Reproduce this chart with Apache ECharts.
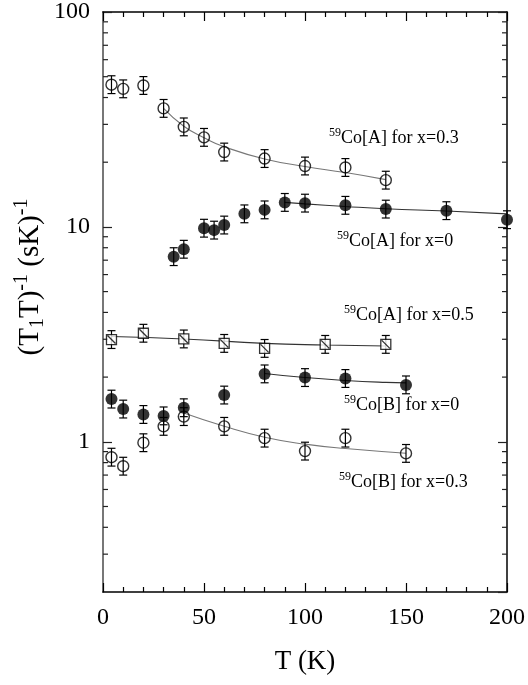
<!DOCTYPE html>
<html>
<head>
<meta charset="utf-8">
<script src="https://cdn.jsdelivr.net/npm/echarts@6/dist/echarts.min.js"></script>
<style>
html, body { margin: 0; padding: 0; background: #fff; }
#chart { width: 528px; height: 685px; }
</style>
</head>
<body>
<div id="chart"></div>
<script>
// values: T (K) and (T1T)^-1 (sK)^-1
const T_A03 = [4.2, 10, 20, 30, 40, 50, 60, 80, 100, 120, 140];
const V_A03 = [45.9, 43.9, 45.5, 35.6, 29.2, 26.1, 22.3, 20.8, 19.2, 18.9, 16.5];
const T_A0 = [35, 40, 50, 55, 60, 70, 80, 90, 100, 120, 140, 170, 200];
const V_A0 = [7.27, 7.87, 9.86, 9.66, 10.2, 11.5, 12.0, 13.0, 12.9, 12.6, 12.1, 11.9, 10.8];
const T_A05 = [4.2, 20, 40, 60, 80, 110, 140];
const V_A05 = [2.99, 3.2, 3.01, 2.87, 2.72, 2.84, 2.84];
const T_B0 = [4.2, 10, 20, 30, 40, 60, 80, 100, 120, 150];
const V_B0 = [1.58, 1.42, 1.34, 1.32, 1.44, 1.65, 2.07, 1.99, 1.97, 1.84];
const T_B03 = [4.2, 10, 20, 30, 40, 60, 80, 100, 120, 150];
const V_B03 = [0.848, 0.77, 0.99, 1.18, 1.31, 1.18, 1.04, 0.905, 1.04, 0.883];

// fitted curves
const FIT_A03_T = [30, 40, 50, 60, 80, 100, 120, 140];
const FIT_A03_V = [35.6, 29.4, 26.0, 23.6, 20.7, 19.1, 17.9, 16.6];
const FIT_A0_T = [90, 100, 120, 140, 170, 200];
const FIT_A0_V = [13.0, 12.8, 12.45, 12.15, 11.85, 11.5];
const FIT_A05_T = [4.2, 40, 80, 110, 140];
const FIT_A05_V = [3.09, 3.01, 2.87, 2.82, 2.79];
const FIT_B0_T = [80, 100, 120, 140, 150];
const FIT_B0_V = [2.08, 1.99, 1.93, 1.89, 1.88];
const FIT_B03_T = [40, 60, 80, 100, 120, 150];
const FIT_B03_V = [1.36, 1.18, 1.05, 0.975, 0.93, 0.885];

// relative error of every point
const ERR = 0.1;
// minor ticks of the log axis
const MINOR_Y = [0.3, 0.4, 0.5, 0.6, 0.7, 0.8, 0.9, 2, 3, 4, 5, 6, 7, 8, 9, 20, 30, 40, 50, 60, 70, 80, 90];

const FONT = 'Liberation Serif';
const chart = echarts.init(document.getElementById('chart'));

function pairs(ts, vs) {
  return ts.map((t, i) => [t, vs[i]]);
}

function errorBars(ts, vs) {
  return {
    type: 'custom',
    silent: true,
    z: 2,
    data: pairs(ts, vs),
    renderItem: function (params, api) {
      const t = api.value(0), v = api.value(1);
      const hi = api.coord([t, v * (1 + ERR)]);
      const lo = api.coord([t, v / (1 + ERR)]);
      const hw = 4;
      const st = { stroke: '#000', lineWidth: 1.2 };
      return {
        type: 'group',
        children: [
          { type: 'line', shape: { x1: hi[0], y1: hi[1], x2: lo[0], y2: lo[1] }, style: st },
          { type: 'line', shape: { x1: hi[0] - hw, y1: hi[1], x2: hi[0] + hw, y2: hi[1] }, style: st },
          { type: 'line', shape: { x1: lo[0] - hw, y1: lo[1], x2: lo[0] + hw, y2: lo[1] }, style: st }
        ]
      };
    }
  };
}

function fitLine(ts, vs, color) {
  return {
    type: 'line', smooth: true, showSymbol: false, silent: true, z: 1,
    data: pairs(ts, vs),
    lineStyle: { color: color, width: 1.1 }
  };
}

const openCircle = { color: 'rgba(0,0,0,0)', borderColor: '#000', borderWidth: 1.4 };
const filledCircle = { color: '#000', borderColor: '#000', borderWidth: 0 };

function note(text, x, y) {
  return {
    type: 'text', x: x, y: y, z: 10,
    style: {
      text: '{s|59}{m|' + text + '}',
      fill: '#000',
      verticalAlign: 'middle',
      rich: {
        s: { fontFamily: FONT, fontSize: 12, lineHeight: 12, verticalAlign: 'top' },
        m: { fontFamily: FONT, fontSize: 18, lineHeight: 22 }
      }
    }
  };
}

const axisTextStyle = { fontFamily: FONT, fontSize: 24, color: '#000' };

const option = {
  animation: false,
  backgroundColor: '#fff',
  grid: { left: 103, top: 11, width: 408, height: 581 },
  xAxis: [
    {
      type: 'value', min: 0, max: 200, interval: 50,
      axisLine: { show: true, onZero: false, lineStyle: { color: '#000', width: 1.5 } },
      axisTick: { inside: true, length: 9, lineStyle: { color: '#000', width: 1.2 } },
      minorTick: { show: true, splitNumber: 5, length: 5, lineStyle: { color: '#000', width: 1.2 } },
      splitLine: { show: false },
      axisLabel: Object.assign({ margin: 14 }, axisTextStyle),
      name: 'T (K)', nameLocation: 'middle', nameGap: 56,
      nameTextStyle: { fontFamily: FONT, fontSize: 27, color: '#000' }
    },
    {
      type: 'value', position: 'top', min: 0, max: 200, interval: 50,
      axisLine: { show: true, onZero: false, lineStyle: { color: '#000', width: 1.5 } },
      axisTick: { inside: true, length: 9, lineStyle: { color: '#000', width: 1.2 } },
      minorTick: { show: true, splitNumber: 5, length: 5, lineStyle: { color: '#000', width: 1.2 } },
      splitLine: { show: false },
      axisLabel: { show: false }
    }
  ],
  yAxis: [
    {
      type: 'log', logBase: 10, min: 0.2, max: 100,
      axisLine: { show: true, onZero: false, lineStyle: { color: '#777', width: 2 } },
      axisTick: { inside: true, length: 9, lineStyle: { color: '#222', width: 1.2 } },
      splitLine: { show: false },
      axisLabel: Object.assign({ margin: 13, showMinLabel: false }, axisTextStyle)
    },
    {
      type: 'log', logBase: 10, min: 0.2, max: 100, position: 'right',
      axisLine: { show: true, onZero: false, lineStyle: { color: '#000', width: 1.5 } },
      axisTick: { inside: true, length: 9, lineStyle: { color: '#222', width: 1.2 } },
      splitLine: { show: false },
      axisLabel: { show: false }
    }
  ],
  graphic: [
    {
      type: 'text', x: 30, y: 277, rotation: Math.PI / 2, z: 10,
      style: {
        text: '{m|(T}{b|1}{m|T)}{p|-1}{m| (sK)}{p|-1}',
        fill: '#000', align: 'center', verticalAlign: 'middle',
        rich: {
          m: { fontFamily: FONT, fontSize: 29, lineHeight: 36 },
          b: { fontFamily: FONT, fontSize: 20, lineHeight: 20, verticalAlign: 'bottom' },
          p: { fontFamily: FONT, fontSize: 20, lineHeight: 20, verticalAlign: 'top' }
        }
      }
    },
    note('Co[A] for x=0.3', 329, 138),
    note('Co[A] for x=0', 337, 241),
    note('Co[A] for x=0.5', 344, 315),
    note('Co[B] for x=0', 344, 405),
    note('Co[B] for x=0.3', 339, 482)
  ],
  series: [
    {
      type: 'custom', silent: true, z: 3,
      data: MINOR_Y.map(v => [0, v]),
      renderItem: function (params, api) {
        const cs = params.coordSys;
        const y = api.coord([0, api.value(1)])[1];
        const st = { stroke: '#222', lineWidth: 1.2 };
        return {
          type: 'group',
          children: [
            { type: 'line', shape: { x1: cs.x, y1: y, x2: cs.x + 5, y2: y }, style: st },
            { type: 'line', shape: { x1: cs.x + cs.width - 5, y1: y, x2: cs.x + cs.width, y2: y }, style: st }
          ]
        };
      }
    },
    fitLine(FIT_A03_T, FIT_A03_V, '#777'),
    fitLine(FIT_A0_T, FIT_A0_V, '#333'),
    fitLine(FIT_A05_T, FIT_A05_V, '#333'),
    fitLine(FIT_B0_T, FIT_B0_V, '#333'),
    fitLine(FIT_B03_T, FIT_B03_V, '#777'),
    errorBars(T_A03, V_A03),
    errorBars(T_A0, V_A0),
    errorBars(T_A05, V_A05),
    errorBars(T_B03, V_B03),
    errorBars(T_B0, V_B0),
    {
      type: 'scatter', z: 4, symbol: 'circle', symbolSize: 11,
      data: pairs(T_A03, V_A03), itemStyle: openCircle
    },
    {
      type: 'scatter', z: 4, symbol: 'circle', symbolSize: 12,
      data: pairs(T_A0, V_A0), itemStyle: filledCircle
    },
    {
      type: 'scatter', z: 4, symbol: 'path://M0,0L10,0L10,10L0,10Z M1,1L9,9', symbolSize: 10,
      data: pairs(T_A05, V_A05),
      itemStyle: { color: '#fff', borderColor: '#000', borderWidth: 1.3 }
    },
    {
      type: 'scatter', z: 4, symbol: 'circle', symbolSize: 11,
      data: pairs(T_B03, V_B03), itemStyle: openCircle
    },
    {
      type: 'scatter', z: 5, symbol: 'circle', symbolSize: 12,
      data: pairs(T_B0, V_B0), itemStyle: filledCircle
    }
  ]
};

chart.setOption(option);
</script>
</body>
</html>
